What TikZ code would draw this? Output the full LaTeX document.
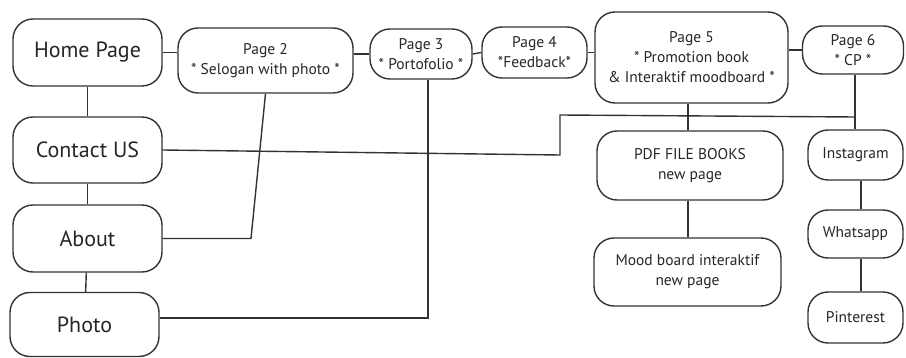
\documentclass[tikz,border=0pt]{standalone}
\usepackage{fontspec}
\setmainfont{PT Sans}
\begin{document}
\begin{tikzpicture}[x=1pt,y=-1pt,
  box/.style={draw=black!80,line width=1.4pt,rounded corners=20pt,align=center,inner sep=0pt,text=black!85},
  big/.style={box,font=\fontsize{22}{26}\selectfont},
  small/.style={box,font=\fontsize{15.5}{20}\selectfont},
  link/.style={draw=black!80,line width=1.4pt}]
\useasboundingbox (0,0) rectangle (906,358);
\node[big,minimum width=149pt,minimum height=67pt] (home) at (87.5,52.5) {Home Page};
\node[big,minimum width=149pt,minimum height=66pt] (contact) at (87.5,150) {Contact US};
\node[big,minimum width=149pt,minimum height=67pt] (about) at (87.5,238.5) {About};
\node[big,minimum width=149pt,minimum height=64pt] (photo) at (84.5,324.5) {Photo};
\node[small,minimum width=175pt,minimum height=65pt] (page2) at (265.5,60.5) {Page 2\\* Selogan with photo *};
\node[small,minimum width=102pt,minimum height=50pt] (page3) at (421,54) {Page 3\\* Portofolio *};
\node[small,minimum width=105pt,minimum height=51pt] (page4) at (534.5,52.5) {Page 4\\*Feedback*};
\node[small,minimum width=193pt,minimum height=91pt] (page5) at (691.5,57.5) {Page 5\\* Promotion book\\\& Interaktif moodboard *};
\node[small,minimum width=101pt,minimum height=48pt] (page6) at (853,50) {Page 6\\* CP *};
\node[small,minimum width=95pt,minimum height=50pt] (insta) at (855.5,155) {Instagram};
\node[small,minimum width=95pt,minimum height=48pt] (whats) at (855.5,234) {Whatsapp};
\node[small,minimum width=95pt,minimum height=51pt] (pint) at (855.5,317.5) {Pinterest};
\node[small,minimum width=186pt,minimum height=69pt] (pdf) at (690,165.5) {PDF FILE BOOKS\\new page};
\node[small,minimum width=187pt,minimum height=68pt] (mood) at (687.5,272) {Mood board interaktif\\new page};
% coordinates
\coordinate (a2) at (251,238.5);
\coordinate (p3) at (428,318);
\coordinate (c1) at (560,155);
\coordinate (c2) at (560,115);
\coordinate (c3) at (855,117);
\coordinate (v5) at (688,0);
\coordinate (v6) at (861,0);
% connectors
\draw[link] (home) -- (contact);
\draw[link] (contact) -- (about);
\draw[link] (about) -- (photo);
\draw[link] (home.east) -- (home.east -| page2.west);
\draw[link] (page3.west -| page2.east) -- (page3.west);
\draw[link] (page3.east) -- (page4.west);
\draw[link] (page4.east) -- (page4.east -| page5.west);
\draw[link] (page6.west) -- (page6.west -| page5.east);
\draw[link] (page2.south) -- (a2) -- (about.east);
\draw[link] (p3 |- page3.south) -- (p3) -- (p3 -| photo.east);
\draw[link] (contact.east) -- (c1) -- (c2) -- (c3);
\draw[link] (c3 |- page6.south) -- (c3 |- insta.north);
\draw[link] (v5 |- page5.south) -- (v5 |- pdf.north);
\draw[link] (v5 |- pdf.south) -- (v5 |- mood.north);
\draw[link] (v6 |- insta.south) -- (v6 |- whats.north);
\draw[link] (v6 |- whats.south) -- (v6 |- pint.north);
\end{tikzpicture}
\end{document}
